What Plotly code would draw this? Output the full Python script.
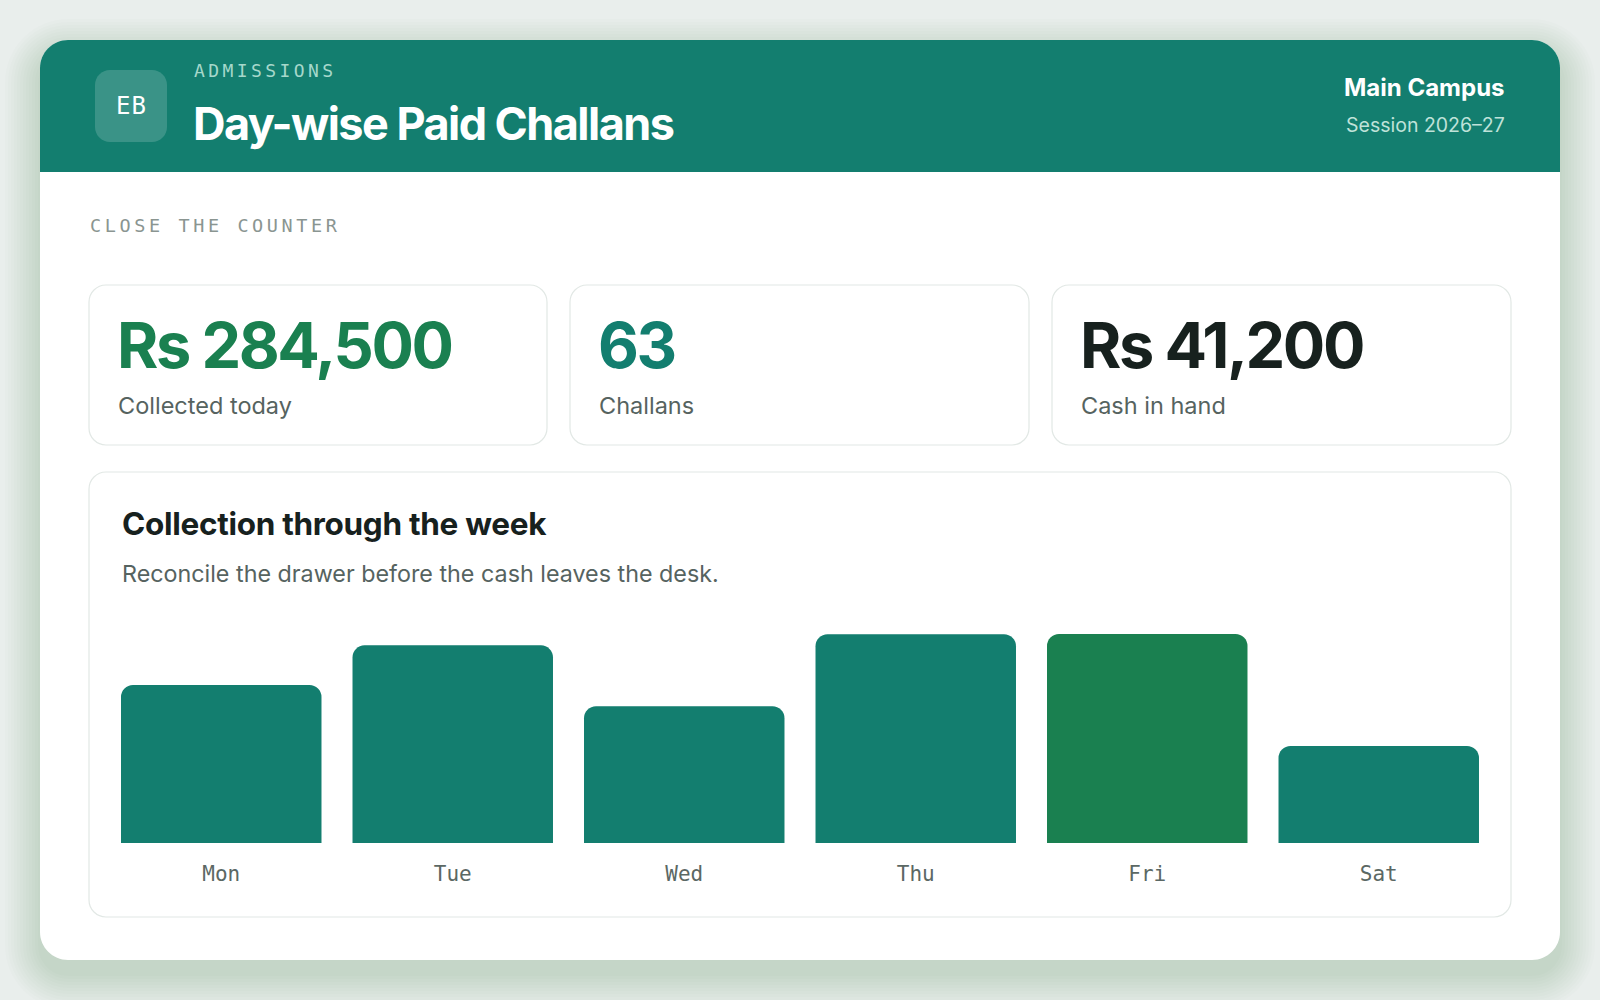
import plotly.graph_objects as go

# ---------------- data ----------------
days = ["Mon", "Tue", "Wed", "Thu", "Fri", "Sat"]
collections = [215000, 269000, 186000, 284000, 284500, 132000]
highlight_day = "Fri"

kpi_values = ["Rs 284,500", "63", "Rs 41,200"]
kpi_labels = ["Collected today", "Challans", "Cash in hand"]

eyebrow = "ADMISSIONS"
title = "Day-wise Paid Challans"
campus = "Main Campus"
session = "Session 2026–27"
section_label = "CLOSE THE COUNTER"
chart_title = "Collection through the week"
chart_sub = "Reconcile the drawer before the cash leaves the desk."

# ---------------- styling ----------------
W, H = 1600, 1000
TEAL = "#137e6f"
GREEN = "#1a8050"
DARK = "#17211e"
MUTED = "#56635f"
PAGE = "#e9eeec"
SANS = "Inter, 'Noto Sans', sans-serif"
MONO = "'DejaVu Sans Mono', 'Liberation Mono', monospace"
KPI_COLORS = [GREEN, TEAL, DARK]


def px(x):
    return x / W


def py(y):
    return 1 - y / H


def rrect(x0, y0, x1, y1, r, top_only=False):
    k = 0.5523 * r
    rb = 0 if top_only else r
    kb = 0.5523 * rb
    d = f"M {px(x0 + r)} {py(y0)} L {px(x1 - r)} {py(y0)} "
    d += f"C {px(x1 - r + k)} {py(y0)} {px(x1)} {py(y0 + r - k)} {px(x1)} {py(y0 + r)} "
    d += f"L {px(x1)} {py(y1 - rb)} "
    if rb:
        d += f"C {px(x1)} {py(y1 - rb + kb)} {px(x1 - rb + kb)} {py(y1)} {px(x1 - rb)} {py(y1)} "
    d += f"L {px(x0 + rb)} {py(y1)} "
    if rb:
        d += f"C {px(x0 + rb - kb)} {py(y1)} {px(x0)} {py(y1 - rb + kb)} {px(x0)} {py(y1 - rb)} "
    d += f"L {px(x0)} {py(y0 + r)} "
    d += f"C {px(x0)} {py(y0 + r - k)} {px(x0 + r - k)} {py(y0)} {px(x0 + r)} {py(y0)} Z"
    return d


shapes = []
# soft shadow under the card
for i in range(12):
    g = 2 + i * 3
    shapes.append(dict(type="path", xref="paper", yref="paper", layer="below",
                       path=rrect(40 - g, 40 - g + 14, 1560 + g, 960 + g + 14, 28 + g),
                       fillcolor="rgba(30,45,40,0.011)", line=dict(width=0)))
# card
shapes.append(dict(type="path", xref="paper", yref="paper", layer="below",
                   path=rrect(40, 40, 1560, 960, 28), fillcolor="white", line=dict(width=0)))
# header band
shapes.append(dict(type="path", xref="paper", yref="paper", layer="below",
                   path=rrect(40, 40, 1560, 172, 28, top_only=True), fillcolor=TEAL,
                   line=dict(width=0)))
# badge
shapes.append(dict(type="path", xref="paper", yref="paper", layer="below",
                   path=rrect(95, 70, 167, 142, 15), fillcolor="rgba(255,255,255,0.17)",
                   line=dict(width=0)))
# kpi cards
kpi_x = [(89, 547), (570, 1029), (1052, 1511)]
for x0, x1 in kpi_x:
    shapes.append(dict(type="path", xref="paper", yref="paper", layer="below",
                       path=rrect(x0, 285, x1, 445, 17), fillcolor="white",
                       line=dict(color="#e2e8e5", width=1.2)))
# chart card
shapes.append(dict(type="path", xref="paper", yref="paper", layer="below",
                   path=rrect(89, 472, 1511, 917, 17), fillcolor="white",
                   line=dict(color="#e2e8e5", width=1.2)))


def ann(x, y, text, size, color, family=SANS, xanchor="left", spacing=None, bold=False):
    t = f"<b>{text}</b>" if bold else text
    if spacing is not None:
        t = f'<span style="letter-spacing:{spacing}px">{t}</span>'
    return dict(x=px(x), y=py(y), xref="paper", yref="paper", text=t, showarrow=False,
                xanchor=xanchor, yanchor="middle", align=xanchor,
                font=dict(size=size, color=color, family=family), borderpad=0)


annotations = [
    ann(131, 106, "EB", 24, "white", family=MONO, xanchor="center", spacing=1),
    ann(193, 70, eyebrow, 18, "#a6d8cb", family=MONO, spacing=3.4),
    ann(192, 123, title, 45, "white", spacing=-1.55, bold=True),
    ann(1506, 88, campus, 24, "white", xanchor="right", bold=True),
    ann(1506, 125, session, 19.5, "#bfe2d9", xanchor="right"),
    ann(89, 226, section_label, 18.5, "#8a9591", family=MONO, spacing=3.6),
    ann(121, 523, chart_title, 31.5, DARK, bold=True, spacing=-0.3),
    ann(121, 573, chart_sub, 23.3, MUTED),
]
for (x0, x1), v, lab, c in zip(kpi_x, kpi_values, kpi_labels, KPI_COLORS):
    annotations.append(ann(x0 + 27, 345, v, 63, c, spacing=-2.4, bold=True))
    annotations.append(ann(x0 + 28, 405, lab, 23.5, MUTED))

bar_colors = [GREEN if d == highlight_day else TEAL for d in days]

fig = go.Figure(go.Bar(
    x=days, y=collections,
    marker=dict(color=bar_colors, line=dict(width=0), cornerradius=12),
    hovertemplate="%{x}: Rs %{y:,}<extra></extra>",
))

fig.update_layout(
    width=W, height=H,
    margin=dict(l=0, r=0, t=0, b=0),
    paper_bgcolor=PAGE, plot_bgcolor="rgba(0,0,0,0)",
    shapes=shapes, annotations=annotations,
    bargap=0.134, showlegend=False,
    xaxis=dict(domain=[px(105.5), px(1494.5)], showgrid=False, zeroline=False,
               showline=False, ticks="", tickfont=dict(family=MONO, size=21, color="#5b6864"),
               ticklabelstandoff=16, fixedrange=True),
    yaxis=dict(domain=[py(843), py(622.6)], range=[0, 300000], visible=False,
               fixedrange=True),
)

fig.write_html("out.html", config={"displayModeBar": False},
               post_script="document.body.style.margin='0';document.body.style.background='%s';" % PAGE)
